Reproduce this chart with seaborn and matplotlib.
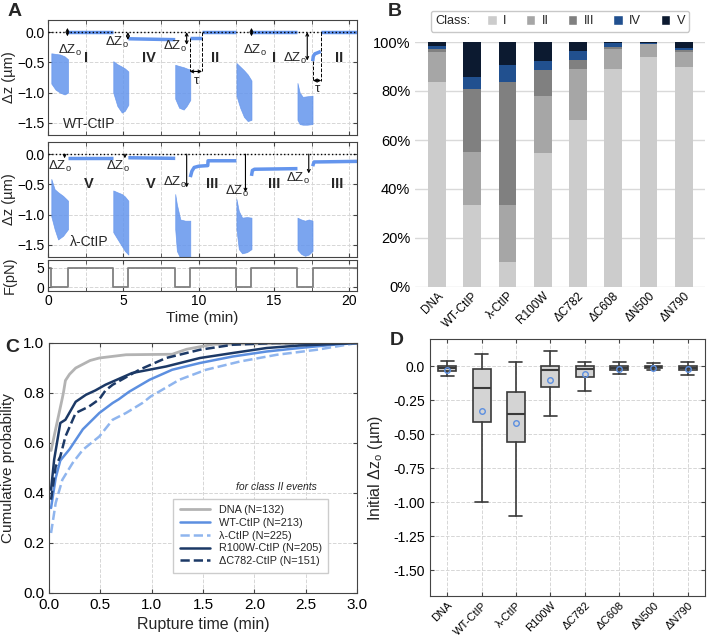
import numpy as np
import pandas as pd
import matplotlib
matplotlib.use("Agg")
from matplotlib import pyplot as plt
from matplotlib.ticker import MultipleLocator, FixedLocator, FixedFormatter, FormatStrFormatter
from matplotlib.patches import Patch
from matplotlib.offsetbox import HPacker
import seaborn as sns

# ---------------- panel A: force protocol and bead traces ----------------
force_t = [0, 0.22, 1.33, 4.33, 5.33, 8.44, 9.44, 12.5, 13.5, 16.55, 17.55, 20.5]
force_f = [5, 0, 5, 0, 5, 0, 5, 0, 5, 0, 5, 5]

# zero-force fluctuation envelopes (upper / lower edge), WT-CtIP
wt_noise_t = [[0.22, 0.5, 0.8, 1.1, 1.33], [4.33, 4.6, 4.9, 5.1, 5.33],
              [8.44, 8.7, 9.0, 9.2, 9.44], [12.5, 12.75, 13.0, 13.25, 13.5],
              [16.55, 16.7, 16.9, 17.2, 17.55]]
wt_noise_hi = [[-0.35, -0.36, -0.37, -0.40, -0.45], [-0.48, -0.53, -0.57, -0.60, -0.65],
               [-0.54, -0.56, -0.58, -0.60, -0.62], [-0.51, -0.57, -0.63, -0.70, -0.80],
               [-0.84, -1.00, -1.07, -1.06, -1.05]]
wt_noise_lo = [[-0.85, -0.95, -1.00, -1.03, -1.00], [-1.00, -1.22, -1.33, -1.30, -1.20],
               [-1.10, -1.25, -1.28, -1.22, -1.12], [-1.05, -1.25, -1.40, -1.47, -1.45],
               [-1.45, -1.52, -1.53, -1.53, -1.52]]
# 5 pN plateaus, WT-CtIP
wt_level_t = [[1.33, 4.33], [5.33, 8.44], [9.44, 10.2], [10.24, 12.5], [13.5, 16.55],
              [17.56, 17.6, 17.7, 17.9, 18.1], [18.14, 20.5]]
wt_level_z = [[-0.005, -0.005], [-0.11, -0.125], [-0.10, -0.10], [-0.005, -0.005], [-0.005, -0.005],
              [-0.48, -0.40, -0.36, -0.34, -0.32], [-0.005, -0.005]]
wt_classes = ["I", "IV", "II", "I", "II"]
wt_class_t = [2.5, 6.7, 11.1, 15.0, 19.3]

# lambda-CtIP
lam_noise_t = [[0.22, 0.44, 0.67, 1.0, 1.33], [4.33, 4.6, 4.9, 5.1, 5.33],
               [8.44, 8.55, 8.78, 9.1, 9.44], [12.5, 12.66, 12.88, 13.2, 13.5],
               [16.55, 16.8, 17.05, 17.3, 17.55]]
lam_noise_hi = [[-0.41, -0.58, -0.63, -0.69, -0.77], [-0.60, -0.63, -0.66, -0.70, -0.77],
                [-0.66, -0.83, -1.08, -1.10, -1.10], [-0.74, -0.94, -1.05, -1.04, -1.05],
                [-1.05, -1.08, -1.10, -1.08, -1.10]]
lam_noise_lo = [[-1.03, -1.24, -1.41, -1.35, -1.24], [-1.29, -1.40, -1.52, -1.60, -1.66],
                [-1.24, -1.60, -1.72, -1.72, -1.70], [-1.24, -1.57, -1.64, -1.62, -1.57],
                [-1.58, -1.65, -1.68, -1.66, -1.60]]
lam_level_t = [[1.33, 4.33], [5.33, 8.44], [9.44, 9.55, 9.7, 10.0, 10.6, 10.62, 12.5],
               [13.5, 13.56, 13.7, 16.55], [17.56, 17.65, 20.5]]
lam_level_z = [[-0.07, -0.07], [-0.06, -0.07], [-0.38, -0.28, -0.22, -0.20, -0.19, -0.11, -0.11],
               [-0.36, -0.27, -0.25, -0.24], [-0.20, -0.13, -0.12]]
lam_classes = ["V", "V", "III", "III", "III"]
lam_class_t = [2.7, 6.8, 10.9, 15.0, 19.2]

# ---------------- panel B: class fractions (%) ----------------
constructs = ["DNA", "WT-CtIP", "λ-CtIP", "R100W", "ΔC782", "ΔC608", "ΔN500", "ΔN790"]
class_names = ["I", "II", "III", "IV", "V"]
class_I = [83.5, 33.5, 10.0, 54.8, 68.2, 89.0, 93.7, 89.9]
class_II = [12.5, 21.7, 23.5, 23.3, 20.6, 8.3, 5.4, 6.1]
class_III = [1.0, 25.5, 50.3, 10.5, 3.9, 0.7, 0.2, 0.9]
class_IV = [1.5, 4.9, 6.8, 3.6, 3.8, 1.5, 0.4, 0.7]
class_V = [1.5, 14.4, 9.4, 7.8, 3.5, 0.5, 0.3, 2.4]

# ---------------- panel C: rupture time CDFs ----------------
dna_t = [0.02, 0.13, 0.14, 0.16, 0.2, 0.26, 0.4, 0.49, 0.75, 1.2, 1.34, 1.6, 3.0]
dna_p = [0.57, 0.78, 0.80, 0.85, 0.875, 0.90, 0.93, 0.94, 0.953, 0.955, 0.975, 0.995, 1.0]
wt_t = [0.02, 0.065, 0.11, 0.2, 0.33, 0.49, 0.62, 0.68, 0.78, 0.98, 1.2, 1.47, 1.79, 2.12, 2.44, 2.77, 3.0]
wt_p = [0.34, 0.46, 0.53, 0.575, 0.655, 0.72, 0.76, 0.775, 0.805, 0.853, 0.893, 0.92, 0.946, 0.966, 0.98, 0.993, 1.0]
lam_t = [0.02, 0.065, 0.13, 0.23, 0.33, 0.49, 0.62, 0.75, 0.91, 0.99, 1.07, 1.27, 1.53, 1.86, 2.22, 2.61, 3.0]
lam_p = [0.24, 0.36, 0.453, 0.52, 0.573, 0.626, 0.693, 0.72, 0.76, 0.786, 0.805, 0.853, 0.893, 0.926, 0.953, 0.973, 1.0]
r100w_t = [0.02, 0.05, 0.11, 0.16, 0.26, 0.36, 0.45, 0.55, 0.81, 1.14, 1.47, 1.79, 2.12, 2.44, 3.0]
r100w_p = [0.413, 0.533, 0.68, 0.693, 0.765, 0.793, 0.81, 0.833, 0.88, 0.906, 0.94, 0.96, 0.98, 0.99, 1.0]
dc782_t = [0.02, 0.065, 0.11, 0.16, 0.26, 0.39, 0.49, 0.55, 0.62, 0.88, 1.14, 1.47, 1.79, 2.2, 3.0]
dc782_p = [0.373, 0.506, 0.546, 0.626, 0.72, 0.746, 0.775, 0.81, 0.833, 0.893, 0.94, 0.973, 0.993, 1.0, 1.0]
cdf_labels = ["DNA (N=132)", "WT-CtIP (N=213)", "λ-CtIP (N=225)", "R100W-CtIP (N=205)", "ΔC782-CtIP (N=151)"]

# ---------------- panel D: initial dz0 box statistics (um) ----------------
box_whislo = [-0.07, -1.00, -1.10, -0.367, -0.186, -0.056, -0.03, -0.064]
box_q1 = [-0.035, -0.414, -0.56, -0.152, -0.078, -0.025, -0.015, -0.03]
box_med = [-0.015, -0.157, -0.35, -0.03, -0.017, -0.01, -0.005, -0.01]
box_q3 = [0.0, -0.022, -0.19, -0.002, 0.0, 0.0, 0.0, 0.0]
box_whishi = [0.04, 0.088, 0.03, 0.11, 0.03, 0.03, 0.02, 0.03]
box_mean = [-0.027, -0.333, -0.42, -0.103, -0.061, -0.022, -0.015, -0.022]
d_yticks = [-1.5, -1.25, -1.0, -0.75, -0.5, -0.25, 0.0]
d_yticklabels = ["-1.50", "-1.25", "-1.00", "-0.75", "-0.50", "-0.25", "0.0"]

# ---------------- style ----------------
sns.set_style("ticks")
plt.rcParams["font.family"] = ["Liberation Sans", "DejaVu Sans"]
plt.rcParams["mathtext.fontset"] = "custom"
plt.rcParams["mathtext.rm"] = "Liberation Sans"
plt.rcParams["axes.edgecolor"] = "#444444"
plt.rcParams["xtick.color"] = "#444444"
plt.rcParams["ytick.color"] = "#444444"
plt.rcParams["xtick.labelcolor"] = "black"
plt.rcParams["ytick.labelcolor"] = "black"

trace_blue = "#6495ed"
grid_kw = dict(ls="--", color="#d6d6d6", lw=0.7)
W, H = 708, 637


def box(l, t, r, b):
    return [l / W, 1 - b / H, (r - l) / W, (b - t) / H]


fig = plt.figure(figsize=(7.08, 6.37), dpi=100)
DZO = "ΔZ$_\\mathregular{o}$"


def trace_axes(ax):
    ax.set_xlim(0, 20.5)
    ax.xaxis.set_major_locator(MultipleLocator(5))
    ax.xaxis.set_minor_locator(MultipleLocator(2.5))
    ax.tick_params(which="both", direction="in", top=True, right=True, length=3, labelsize=10,
                   pad=2.5)
    ax.grid(True, which="both", axis="x", **grid_kw)
    ax.grid(True, which="major", axis="y", **grid_kw)
    ax.yaxis.set_label_coords(-0.102, 0.5)


def arrow(ax, x0, y0, x1, y1, style="<->", ms=5):
    ax.annotate("", xy=(x1, y1), xytext=(x0, y0),
                arrowprops=dict(arrowstyle=style, lw=0.8, color="k", shrinkA=0, shrinkB=0,
                                mutation_scale=ms))


def draw_trace(ax, nt, nhi, nlo, lt, lz):
    ax.axhline(0, color="k", ls=":", lw=1.0, zorder=3)
    for t, hi, lo in zip(nt, nhi, nlo):
        ax.fill_between(t, lo, hi, color=trace_blue, alpha=0.85, lw=0.5, zorder=2)
    for t, z in zip(lt, lz):
        ax.plot(t, z, color=trace_blue, lw=2.5, solid_capstyle="butt", zorder=2)
    ax.set_ylim(-1.7, 0.2)
    ax.set_yticks([-1.5, -1.0, -0.5, 0.0])
    ax.set_ylabel("Δz (µm)", fontsize=10.5)
    ax.tick_params(labelbottom=False)


# A1 WT-CtIP
ax1 = fig.add_axes(box(48, 20, 357, 135))
trace_axes(ax1)
draw_trace(ax1, wt_noise_t, wt_noise_hi, wt_noise_lo, wt_level_t, wt_level_z)
for t, c in zip(wt_class_t, wt_classes):
    ax1.text(t, -0.42, c, ha="center", va="center", fontsize=10.5, fontweight="bold")
ax1.text(1.0, -1.52, "WT-CtIP", fontsize=10, va="center")
arrow(ax1, 1.29, 0.07, 1.29, -0.07)
arrow(ax1, 5.3, 0.0, 5.3, -0.13)
arrow(ax1, 9.2, 0.0, 9.2, -0.21)
arrow(ax1, 13.5, 0.07, 13.5, -0.07)
arrow(ax1, 17.2, 0.0, 17.2, -0.47)
for x, y in [(1.45, -0.3), (4.55, -0.17), (8.4, -0.23), (13.75, -0.3), (16.4, -0.44)]:
    ax1.text(x, y, DZO, ha="center", va="center", fontsize=9.5)
ax1.plot([10.22, 10.22], [0, -0.65], color="k", ls="--", lw=0.7)
ax1.plot([9.4, 9.4], [-0.1, -0.65], color="k", ls="--", lw=0.7)
arrow(ax1, 9.4, -0.65, 10.22, -0.65)
ax1.text(9.85, -0.8, "τ", ha="center", va="center", fontsize=9.5)
ax1.plot([18.13, 18.13], [0, -0.8], color="k", ls="--", lw=0.7)
ax1.plot([17.58, 17.58], [-0.48, -0.8], color="k", ls="--", lw=0.7)
arrow(ax1, 17.58, -0.8, 18.13, -0.8)
ax1.text(17.9, -0.94, "τ", ha="center", va="center", fontsize=9.5)

# A2 lambda-CtIP
ax2 = fig.add_axes(box(48, 142, 357, 257))
trace_axes(ax2)
draw_trace(ax2, lam_noise_t, lam_noise_hi, lam_noise_lo, lam_level_t, lam_level_z)
for t, c in zip(lam_class_t, lam_classes):
    ax2.text(t, -0.5, c, ha="center", va="center", fontsize=10.5, fontweight="bold")
ax2.text(1.45, -1.45, "λ-CtIP", fontsize=10, va="center")
arrow(ax2, 1.1, 0.0, 1.1, -0.07, "->")
arrow(ax2, 5.1, 0.0, 5.1, -0.07, "->")
arrow(ax2, 9.2, 0.0, 9.2, -0.55, "->")
arrow(ax2, 13.1, 0.0, 13.1, -0.63, "->")
arrow(ax2, 17.3, 0.0, 17.3, -0.32, "->")
for x, y in [(0.78, -0.21), (4.67, -0.21), (8.4, -0.47), (12.5, -0.62), (16.6, -0.4)]:
    ax2.text(x, y, DZO, ha="center", va="center", fontsize=9.5)

# A3 force
ax3 = fig.add_axes(box(48, 260, 357, 291))
trace_axes(ax3)
ax3.plot(force_t, force_f, drawstyle="steps-post", color="#808080", lw=1.3)
ax3.set_ylim(-1, 7)
ax3.set_yticks([0, 5])
ax3.grid(True, which="major", axis="y", **grid_kw)
ax3.set_ylabel("F(pN)", fontsize=10.5)
ax3.set_xlabel("Time (min)", fontsize=11, labelpad=2)

# ---------------- B ----------------
axb = fig.add_axes(box(415, 42, 705, 287))
class_cols = ["#cccccc", "#a6a6a6", "#808080", "#21508f", "#0c1a30"]
layers = [class_I, class_II, class_III, class_IV, class_V]
cum = np.cumsum(np.array(layers), axis=0)
for k in range(4, -1, -1):
    sns.barplot(x=constructs, y=cum[k], color=class_cols[k], saturation=1, width=0.5,
                errorbar=None, ax=axb, linewidth=0, zorder=2)
axb.set_ylim(0, 100)
axb.set_xlim(-0.62, 7.6)
axb.set_yticks(range(0, 101, 20))
axb.set_yticklabels([f"{v}%" for v in range(0, 101, 20)])
axb.grid(True, axis="y", color="#d9d9d9", lw=1.0)
axb.set_axisbelow(True)
for s in axb.spines.values():
    s.set_visible(False)
axb.tick_params(length=0, labelsize=10.5)
axb.tick_params(axis="x", labelsize=8.5, pad=2)
plt.setp(axb.get_xticklabels(), rotation=45, ha="right", rotation_mode="anchor")
axb.set_xlabel("")
handles = [Patch(facecolor=c) for c in class_cols]
leg = axb.legend(handles, class_names, title="Class:", title_fontsize=9.2, ncol=5,
                 loc="lower center", bbox_to_anchor=(0.5, 1.015), frameon=True, fontsize=9.2,
                 handlelength=0.75, handleheight=0.75, handletextpad=0.5, columnspacing=1.5,
                 borderpad=0.35, fancybox=True, edgecolor="#bbbbbb")
# put the legend title on the same row as the entries
row = HPacker(children=[leg._legend_title_box, leg._legend_handle_box], pad=0, sep=12,
              align="center")
leg._legend_box._children = [row]

# ---------------- C ----------------
axc = fig.add_axes(box(49, 343, 357, 593))
series = [(dna_t, dna_p, "#b3b3b3", "-", 2.0), (wt_t, wt_p, "#5c8fe0", "-", 1.8),
          (lam_t, lam_p, "#8fb5ee", "--", 1.8), (r100w_t, r100w_p, "#1c3966", "-", 1.8),
          (dc782_t, dc782_p, "#1c3966", "--", 1.8)]
for (t, p, col, ls, lw), lab in zip(series, cdf_labels):
    sns.lineplot(x=t, y=p, ax=axc, color=col, linestyle=ls, lw=lw, label=lab)
axc.set_xlim(0, 3)
axc.set_ylim(0, 1)
axc.xaxis.set_major_locator(MultipleLocator(0.5))
axc.yaxis.set_major_locator(MultipleLocator(0.2))
axc.xaxis.set_major_formatter(FormatStrFormatter("%.1f"))
axc.yaxis.set_major_formatter(FormatStrFormatter("%.1f"))
axc.tick_params(direction="in", top=True, right=True, length=3, labelsize=11)
axc.grid(True, **grid_kw)
axc.set_xlabel("Rupture time (min)", fontsize=11.5)
axc.set_ylabel("Cumulative probability", fontsize=11)
axc.yaxis.set_label_coords(-0.11, 0.5)
axc.legend(loc="lower right", bbox_to_anchor=(0.925, 0.06), fontsize=7.8, handlelength=2.8,
           labelspacing=0.25, borderpad=0.6, fancybox=False, edgecolor="#cccccc", framealpha=1)
axc.text(0.74, 0.425, "for class II events", transform=axc.transAxes, ha="center",
         va="center", fontsize=7.5, style="italic")

# ---------------- D ----------------
axd = fig.add_axes(box(430, 339, 705, 596))
stats = [dict(whislo=a, q1=b, med=c, q3=d, whishi=e, mean=m, fliers=[])
         for a, b, c, d, e, m in zip(box_whislo, box_q1, box_med, box_q3, box_whishi, box_mean)]
axd.bxp(stats, positions=range(len(constructs)), widths=0.52, capwidths=0.38, showmeans=True,
        showfliers=False, patch_artist=True,
        boxprops=dict(facecolor="#d4d4d4", edgecolor="#3a3a3a", lw=1.2),
        medianprops=dict(color="#3a3a3a", lw=1.5),
        whiskerprops=dict(color="#3a3a3a", lw=1.2),
        capprops=dict(color="#3a3a3a", lw=1.2),
        meanprops=dict(marker="o", markerfacecolor="none", markeredgecolor="#5c8fe0",
                       markersize=4, markeredgewidth=1.0))
axd.set_xlim(-0.5, 7.5)
axd.set_ylim(-1.69, 0.2)
axd.yaxis.set_major_locator(FixedLocator(d_yticks))
axd.yaxis.set_major_formatter(FixedFormatter(d_yticklabels))
axd.set_xticks(range(len(constructs)))
axd.set_xticklabels(constructs, rotation=45, ha="right", rotation_mode="anchor")
axd.tick_params(direction="in", top=True, right=True, length=3, labelsize=10)
axd.tick_params(axis="x", labelsize=8, pad=3)
axd.grid(True, **grid_kw)
axd.set_axisbelow(True)
axd.set_ylabel("Initial Δz$_\\mathregular{o}$ (µm)", fontsize=11.5)
axd.yaxis.set_label_coords(-0.164, 0.5)

for x, y, s in [(8, 12, "A"), (388, 12, "B"), (5, 347, "C"), (390, 340, "D")]:
    fig.text(x / W, 1 - y / H, s, fontsize=14, fontweight="bold", ha="left", va="center")

fig.savefig("out.png", dpi=100)
